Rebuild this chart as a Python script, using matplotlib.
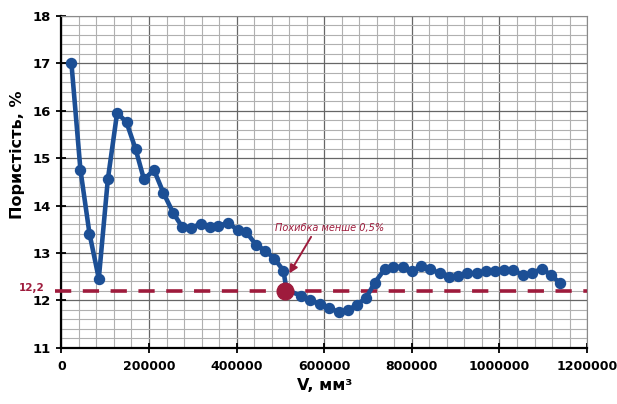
import matplotlib
matplotlib.use("Agg")
import matplotlib.pyplot as plt
from matplotlib.ticker import MultipleLocator
import matplotlib.transforms as mtransforms

volume = [22900, 43500, 64100, 85400, 106000, 127300, 148800, 169400, 188500, 211400,
          232700, 254900, 276200, 295400, 318300, 338900, 358600, 380800, 402100, 421400,
          444300, 465600, 486200, 506800, 514000, 547000, 568300, 590000, 612000, 633000,
          654000, 674000, 696000, 715000, 738000, 758000, 780000, 801000, 822000, 842000,
          864000, 885000, 906000, 927000, 948000, 969000, 990000, 1011000, 1032000, 1054000,
          1075000, 1097000, 1118000, 1139000]
porosity = [17.0, 14.75, 13.41, 12.46, 14.55, 15.96, 15.75, 15.19, 14.55, 14.75,
            14.27, 13.85, 13.54, 13.52, 13.62, 13.54, 13.57, 13.64, 13.48, 13.45,
            13.17, 13.05, 12.88, 12.63, 12.22, 12.10, 12.00, 11.92, 11.83, 11.76,
            11.80, 11.90, 12.06, 12.37, 12.66, 12.70, 12.71, 12.62, 12.73, 12.66,
            12.57, 12.49, 12.51, 12.57, 12.57, 12.62, 12.62, 12.64, 12.64, 12.53,
            12.58, 12.67, 12.53, 12.36]
threshold = 12.2
threshold_label = "12,2"
marked_point = (511000, 12.2)
annotation_text = "Похибка менше 0,5%"
xlabel = "V, мм³"
ylabel = "Пористість, %"

blue = "#1c4f95"
maroon = "#9e1b3c"

plt.rcParams['font.family'] = ['DejaVu Sans']
fig = plt.figure(figsize=(6.17, 4.04), dpi=100)
ax = fig.add_axes([0.0995, 0.139, 0.852, 0.822])

ax.set_xlim(0, 1200000)
ax.set_ylim(11, 18)
ax.xaxis.set_major_locator(MultipleLocator(200000))
ax.xaxis.set_minor_locator(MultipleLocator(40000))
ax.yaxis.set_major_locator(MultipleLocator(1))
ax.yaxis.set_minor_locator(MultipleLocator(0.2))
ax.grid(which='major', color='#666666', linewidth=0.9)
ax.grid(which='minor', color='#b0b0b0', linewidth=0.8)
ax.set_axisbelow(True)

for s in ['top', 'right']:
    ax.spines[s].set_color('#8a8a8a')
    ax.spines[s].set_linewidth(0.8)
for s in ['left', 'bottom']:
    ax.spines[s].set_color('black')
    ax.spines[s].set_linewidth(1.6)

ax.tick_params(which='major', direction='inout', length=7, width=1.3)
ax.tick_params(axis='y', pad=4)
ax.tick_params(axis='x', pad=5)
ax.tick_params(which='minor', length=0)
xt = list(range(0, 1200001, 200000))
yt = list(range(11, 19))
ax.set_xticks(xt)
ax.set_xticklabels([str(v) for v in xt], fontweight='bold', fontsize=9)
ax.set_yticks(yt)
ax.set_yticklabels([str(v) for v in yt], fontweight='bold', fontsize=9.5)
ax.set_xlim(0, 1200000)
ax.set_ylim(11, 18)

trans = mtransforms.blended_transform_factory(ax.transAxes, ax.transData)
ax.plot([-0.012, 1.0], [threshold, threshold], transform=trans, color=maroon,
        linewidth=2.6, dashes=(4.5, 3.2), clip_on=False, zorder=3)
ax.text(-0.032, threshold + 0.07, threshold_label, transform=trans, color=maroon,
        fontsize=7.5, fontweight='bold', ha='right', va='center')

ax.plot(volume, porosity, color=blue, linewidth=3.3, marker='o', markersize=7.2,
        zorder=4)
ax.plot([marked_point[0]], [marked_point[1]], 'o', color=maroon, markersize=12, zorder=5)

ax.text(612000, 13.47, annotation_text, color=maroon, fontsize=7, fontstyle='italic',
        ha='center', va='baseline', zorder=6)
ax.annotate("", xy=(520500, 12.57), xytext=(570000, 13.34),
            arrowprops=dict(arrowstyle='-|>', color=maroon, lw=1.4,
                            shrinkA=0, shrinkB=0, mutation_scale=12),
            zorder=6)

ax.set_xlabel(xlabel, fontsize=11.5, fontweight='bold', labelpad=4)
fig.text(18 / 617, 1 - 155 / 404, ylabel, rotation=90, fontsize=11.5,
         fontweight='bold', ha='center', va='center')

fig.savefig("out.png", dpi=100)
